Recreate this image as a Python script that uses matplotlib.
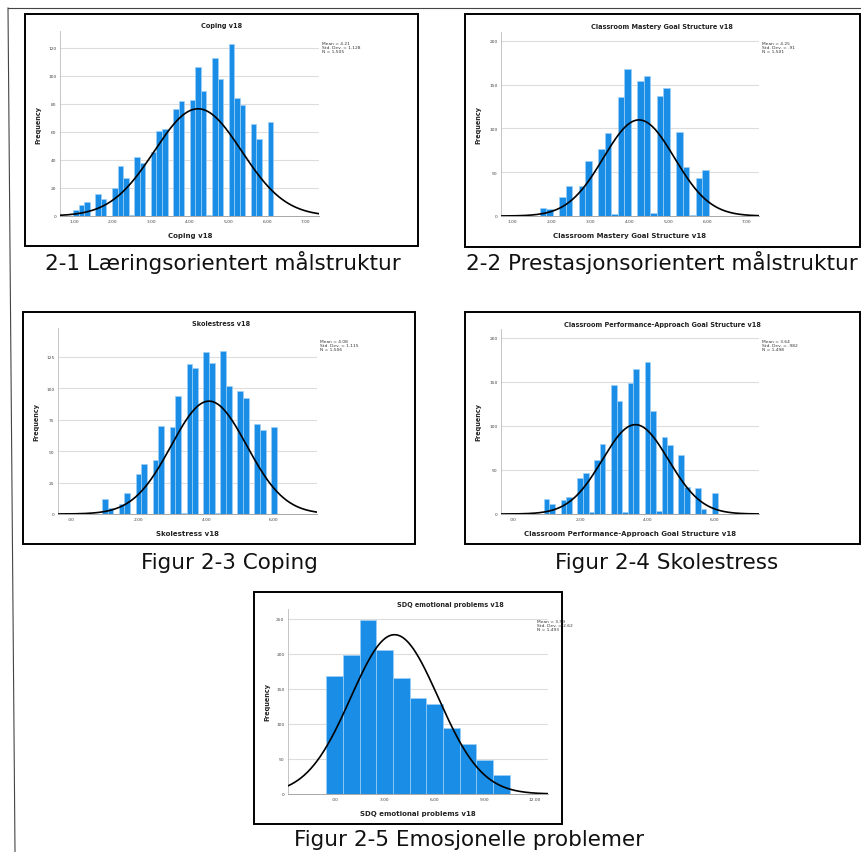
import numpy as np
import matplotlib
matplotlib.use("Agg")
import matplotlib.pyplot as plt
from matplotlib.patches import Rectangle
from matplotlib.lines import Line2D

# ---------------- data ----------------
# Panel 1: Coping v18
coping_title = "Coping v18"
coping_bin_start = 0.98
coping_bin_width = 0.1437
coping_counts = [4, 8, 10, 0, 16, 12, 0, 20, 36, 27, 1, 42, 38, 0, 46, 61, 62, 0,
                 76, 82, 0, 83, 106, 89, 1, 113, 98, 0, 123, 84, 79, 0, 66, 55, 0, 67]
coping_stats = (4.21, 1.128, 1505)
coping_stats_text = ["Mean = 4.21", "Std. Dev. = 1.128", "N = 1,505"]
coping_xticks = [1, 2, 3, 4, 5, 6, 7]
coping_yticks = [0, 20, 40, 60, 80, 100, 120]

# Panel 2: Classroom Mastery Goal Structure v18
mastery_title = "Classroom Mastery Goal Structure v18"
mastery_bin_start = 1.209
mastery_bin_width = 1 / 6
mastery_counts = [1, 0, 0, 9, 8, 0, 22, 34, 0, 34, 63, 0, 77, 95, 2, 136, 168, 0,
                  154, 160, 3, 137, 146, 0, 96, 56, 1, 43, 52]
mastery_stats = (4.25, 0.91, 1501)
mastery_stats_text = ["Mean = 4.25", "Std. Dev. = .91", "N = 1,501"]
mastery_xticks = [1, 2, 3, 4, 5, 6, 7]
mastery_yticks = [0, 50, 100, 150, 200]

# Panel 3: Skolestress v18
stress_title = "Skolestress v18"
stress_bin_start = 0.917
stress_bin_width = 1 / 6
stress_counts = [12, 5, 0, 8, 17, 0, 32, 40, 0, 43, 70, 0, 69, 94, 1, 119, 116, 0,
                 129, 120, 1, 130, 102, 0, 98, 92, 0, 72, 67, 0, 69]
stress_stats = (4.08, 1.115, 1506)
stress_stats_text = ["Mean = 4.08", "Std. Dev. = 1.115", "N = 1,506"]
stress_xticks = [0, 2, 4, 6]
stress_yticks = [0, 25, 50, 75, 100, 125]

# Panel 4: Classroom Performance-Approach Goal Structure v18
perf_title = "Classroom Performance-Approach Goal Structure v18"
perf_bin_start = 0.917
perf_bin_width = 1 / 6
perf_counts = [17, 11, 0, 16, 19, 0, 41, 46, 2, 61, 80, 0, 146, 128, 2, 149, 165, 0,
               173, 117, 3, 87, 78, 0, 67, 31, 0, 29, 6, 0, 24]
perf_stats = (3.64, 0.982, 1498)
perf_stats_text = ["Mean = 3.64", "Std. Dev. = .982", "N = 1,498"]
perf_xticks = [0, 2, 4, 6]
perf_yticks = [0, 50, 100, 150, 200]

# Panel 5: SDQ emotional problems v18
sdq_title = "SDQ emotional problems v18"
sdq_bin_start = -0.5
sdq_bin_width = 1.0
sdq_counts = [169, 198, 248, 206, 166, 137, 129, 94, 71, 48, 27]
sdq_stats = (3.59, 2.62, 1493)
sdq_stats_text = ["Mean = 3.59", "Std. Dev. = 2.62", "N = 1,493"]
sdq_xticks = [0, 3, 6, 9, 12]
sdq_yticks = [0, 50, 100, 150, 200, 250]

captions = ["2-1 Læringsorientert målstruktur",
            "2-2 Prestasjonsorientert målstruktur",
            "Figur 2-3 Coping",
            "Figur 2-4 Skolestress",
            "Figur 2-5 Emosjonelle problemer"]

# ---------------- layout ----------------
W, H = 862, 853
fig = plt.figure(figsize=(W / 100, H / 100), dpi=100)
fig.patch.set_facecolor("white")

def fx(x):
    return x / W

def fy(y):
    return 1 - y / H

BAR = "#1a8de6"
EDGE = "#9fd0f5"

panels = [
    dict(title=coping_title, start=coping_bin_start, width=coping_bin_width, counts=coping_counts,
         stats=coping_stats, stext=coping_stats_text, xt=coping_xticks, yt=coping_yticks,
         box=(25, 15, 418, 247), ax=(60, 32, 319, 217), xlim=(0.64, 7.34), ylim=(0, 132),
         tpos=(222, 26), lpos=(190, 236), ypos=38, apos=(322, 42), cap=(223, 263)),
    dict(title=mastery_title, start=mastery_bin_start, width=mastery_bin_width, counts=mastery_counts,
         stats=mastery_stats, stext=mastery_stats_text, xt=mastery_xticks, yt=mastery_yticks,
         box=(465, 15, 860, 248), ax=(501, 33, 759, 217), xlim=(0.71, 7.33), ylim=(0, 210),
         tpos=(662, 27), lpos=(630, 236), ypos=478, apos=(762, 42), cap=(662, 263)),
    dict(title=stress_title, start=stress_bin_start, width=stress_bin_width, counts=stress_counts,
         stats=stress_stats, stext=stress_stats_text, xt=stress_xticks, yt=stress_yticks,
         box=(23, 313, 415, 545), ax=(58, 329, 317, 515), xlim=(-0.38, 7.27), ylim=(0, 148),
         tpos=(221, 324), lpos=(188, 534), ypos=36, apos=(320, 340), cap=(229, 563)),
    dict(title=perf_title, start=perf_bin_start, width=perf_bin_width, counts=perf_counts,
         stats=perf_stats, stext=perf_stats_text, xt=perf_xticks, yt=perf_yticks,
         box=(465, 313, 860, 545), ax=(501, 330, 759, 515), xlim=(-0.35, 7.31), ylim=(0, 210),
         tpos=(662, 325), lpos=(630, 534), ypos=478, apos=(762, 340), cap=(667, 563)),
    dict(title=sdq_title, start=sdq_bin_start, width=sdq_bin_width, counts=sdq_counts,
         stats=sdq_stats, stext=sdq_stats_text, xt=sdq_xticks, yt=sdq_yticks,
         box=(254, 593, 562, 825), ax=(288, 610, 548, 795), xlim=(-2.8, 12.8), ylim=(0, 264),
         tpos=(450, 605), lpos=(418, 814), ypos=267, apos=(537, 620), cap=(469, 840)),
]

def fmt(v):
    s = f"{v:.2f}"
    if s.startswith("0."):
        s = s[1:]
    return s

for i, p in enumerate(panels):
    l, t, r, b = p["ax"]
    ax = fig.add_axes([fx(l), fy(b), fx(r) - fx(l), (b - t) / H])
    counts = np.array(p["counts"], dtype=float)
    lefts = p["start"] + np.arange(len(counts)) * p["width"]
    mask = counts > 0
    ax.bar(lefts[mask], counts[mask], width=p["width"], align="edge",
           color=BAR, edgecolor=EDGE, linewidth=0.5, zorder=3)
    mean, sd, n = p["stats"]
    xs = np.linspace(p["xlim"][0], p["xlim"][1], 400)
    ys = n * p["width"] / (sd * np.sqrt(2 * np.pi)) * np.exp(-0.5 * ((xs - mean) / sd) ** 2)
    ax.plot(xs, ys, color="black", lw=1.2, zorder=4)
    ax.set_xlim(*p["xlim"])
    ax.set_ylim(*p["ylim"])
    ax.set_xticks(p["xt"])
    ax.set_xticklabels([fmt(v) for v in p["xt"]])
    ax.set_yticks(p["yt"])
    ax.set_yticklabels([str(v) for v in p["yt"]])
    ax.tick_params(length=0, labelsize=3.2, labelcolor="#444444", pad=2.5)
    for y in p["yt"][1:]:
        ax.axhline(y, color="#dddddd", lw=0.8, zorder=1)
    for s in ["top", "right"]:
        ax.spines[s].set_visible(False)
    ax.spines["left"].set_color("#bbbbbb")
    ax.spines["bottom"].set_color("#999999")
    ax.spines["left"].set_linewidth(0.6)
    ax.spines["bottom"].set_linewidth(0.6)
    ax.patch.set_alpha(0)

    # panel frame
    bl, bt, br, bb = p["box"]
    fig.add_artist(Rectangle((fx(bl), fy(bb)), fx(br) - fx(bl), (bb - bt) / H,
                             transform=fig.transFigure, fill=False, ec="black", lw=1.4))
    # title, labels, annotation
    fig.text(fx(p["tpos"][0]), fy(p["tpos"][1]), p["title"], ha="center", va="center",
             fontsize=4.7, fontweight="bold", color="#222222")
    fig.text(fx(p["lpos"][0]), fy(p["lpos"][1]), p["title"], ha="center", va="center",
             fontsize=5.0, fontweight="bold", color="#222222")
    fig.text(fx(p["ypos"]), (fy(t) + fy(b)) / 2, "Frequency", ha="center", va="center",
             rotation=90, fontsize=4.7, fontweight="bold", color="#222222")
    fig.text(fx(p["apos"][0]), fy(p["apos"][1]), "\n".join(p["stext"]), ha="left", va="top",
             fontsize=3.2, color="#333333", linespacing=1.0)
    # caption
    fig.text(fx(p["cap"][0]), fy(p["cap"][1]), captions[i], ha="center", va="center",
             fontsize=15.5, color="#111111")

# outer page lines
fig.add_artist(Line2D([fx(8), fx(862)], [fy(9), fy(9)], transform=fig.transFigure,
                      color="#444444", lw=0.8))
fig.add_artist(Line2D([fx(8), fx(15)], [fy(9), fy(853)], transform=fig.transFigure,
                      color="#444444", lw=0.8))

fig.savefig("out.png", dpi=100)
